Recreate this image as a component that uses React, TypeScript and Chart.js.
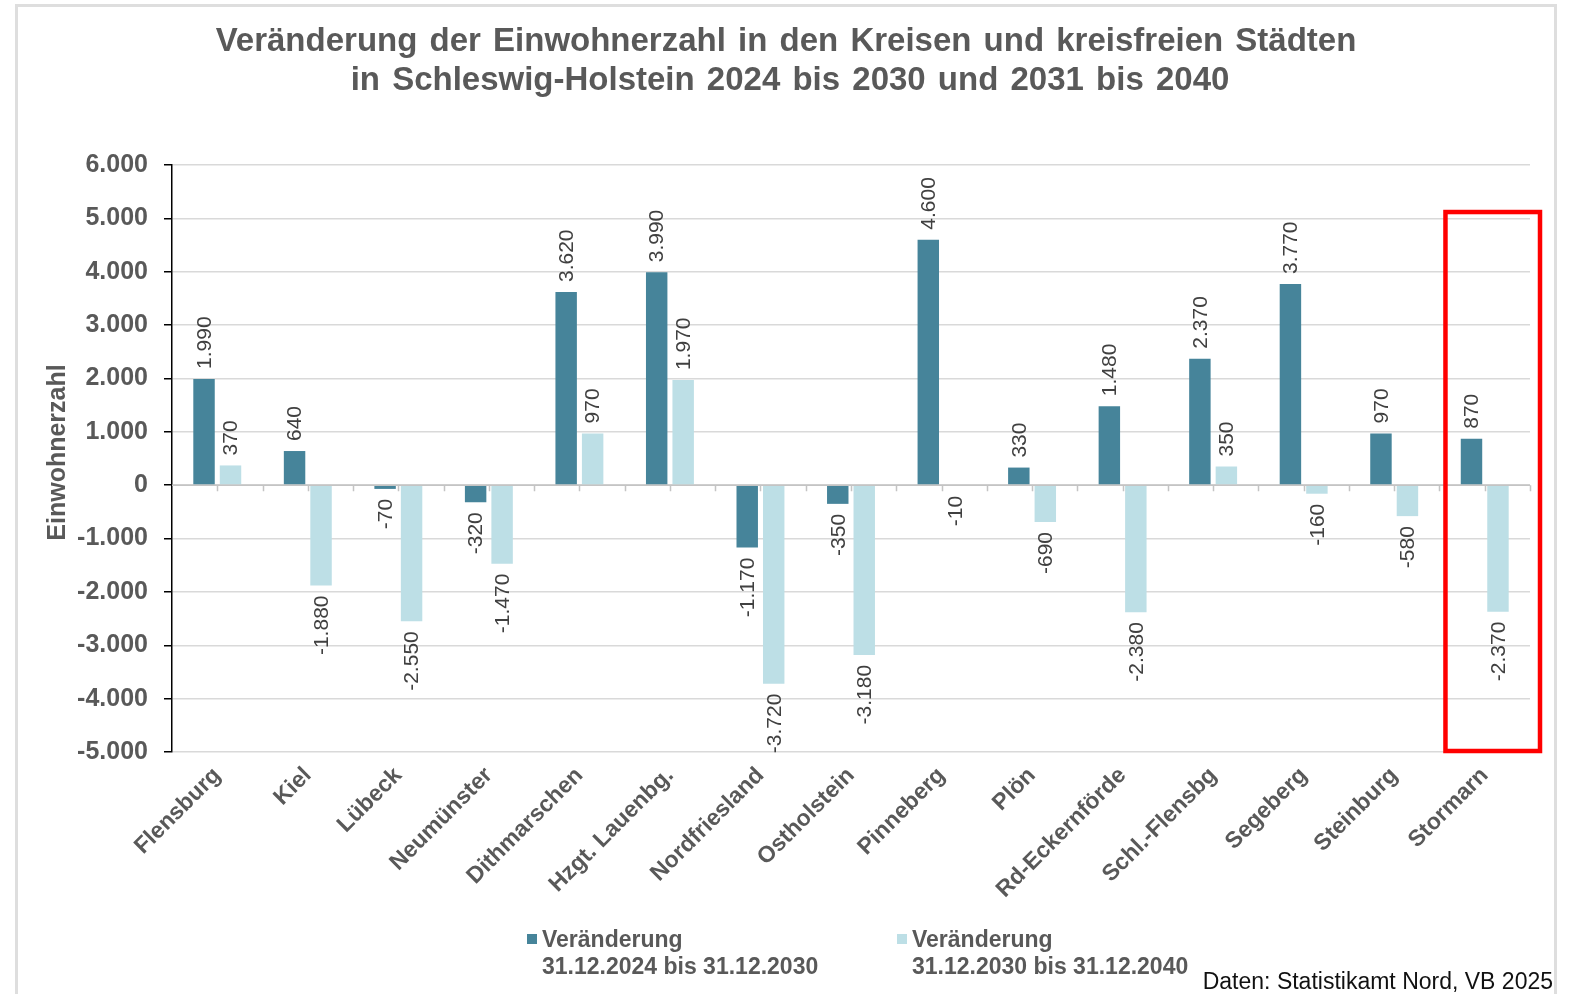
import React, { useEffect, useRef } from "react";
import { Chart, registerables } from "chart.js";

Chart.register(...registerables);

const categories = [
  "Flensburg", "Kiel", "Lübeck", "Neumünster", "Dithmarschen", "Hzgt. Lauenbg.",
  "Nordfriesland", "Ostholstein", "Pinneberg", "Plön", "Rd-Eckernförde",
  "Schl.-Flensbg", "Segeberg", "Steinburg", "Stormarn",
];
const change2024to2030 = [1990, 640, -70, -320, 3620, 3990, -1170, -350, 4600, 330, 1480, 2370, 3770, 970, 870];
const change2030to2040 = [370, -1880, -2550, -1470, 970, 1970, -3720, -3180, -10, -690, -2380, 350, -160, -580, -2370];
const seriesNames = [
  ["Veränderung", "31.12.2024 bis 31.12.2030"],
  ["Veränderung", "31.12.2030 bis 31.12.2040"],
];
const titleLines = [
  "Veränderung der Einwohnerzahl in den Kreisen und kreisfreien Städten",
  "in Schleswig-Holstein 2024 bis 2030 und 2031 bis 2040",
];
const yAxisTitle = "Einwohnerzahl";
const sourceText = "Daten: Statistikamt Nord, VB 2025";
const yMin = -5000;
const yMax = 6000;
const yStep = 1000;
const highlightTop = 5100;

const DARK = "#46849a";
const LIGHT = "#bddfe6";
const FONT = "'Liberation Sans', Arial, sans-serif";

function fmt(n: number): string {
  const s = Math.abs(n).toString().replace(/\B(?=(\d{3})+(?!\d))/g, ".");
  return (n < 0 ? "-" : "") + s;
}

const decorPlugin = {
  id: "decor",
  afterDraw(chart: any) {
    const ctx = chart.ctx as CanvasRenderingContext2D;
    const area = chart.chartArea;
    const xs = chart.scales.x;
    const ys = chart.scales.y;
    ctx.save();

    // frame
    ctx.strokeStyle = "#dedede";
    ctx.lineWidth = 3;
    ctx.beginPath();
    ctx.moveTo(16.5, 994);
    ctx.lineTo(16.5, 5.5);
    ctx.lineTo(1555.5, 5.5);
    ctx.lineTo(1555.5, 994);
    ctx.stroke();

    // title
    ctx.fillStyle = "#595959";
    ctx.font = `bold 33px ${FONT}`;
    (ctx as any).wordSpacing = "3px";
    ctx.textAlign = "center";
    ctx.textBaseline = "middle";
    ctx.fillText(titleLines[0], 786, 42);
    ctx.fillText(titleLines[1], 790, 81);
    (ctx as any).wordSpacing = "0px";

    // y axis title
    ctx.save();
    ctx.translate(58, (area.top + area.bottom) / 2 - 6);
    ctx.rotate(-Math.PI / 2);
    ctx.font = `bold 25px ${FONT}`;
    ctx.fillStyle = "#595959";
    ctx.fillText(yAxisTitle, 0, 0);
    ctx.restore();

    // zero line with half-category ticks
    const y0 = ys.getPixelForValue(0);
    ctx.strokeStyle = "#c4c4c4";
    ctx.lineWidth = 1.5;
    ctx.beginPath();
    ctx.moveTo(area.left, y0);
    ctx.lineTo(area.right, y0);
    const half = (area.right - area.left) / categories.length / 2;
    for (let k = 1; k <= categories.length * 2; k++) {
      const x = Math.round(area.left + k * half) + 0.5;
      ctx.moveTo(x, y0);
      ctx.lineTo(x, y0 + 6);
    }
    ctx.stroke();

    // data labels
    ctx.font = `21px ${FONT}`;
    ctx.fillStyle = "#404040";
    ctx.textBaseline = "middle";
    chart.data.datasets.forEach((ds: any, di: number) => {
      const meta = chart.getDatasetMeta(di);
      meta.data.forEach((bar: any, i: number) => {
        const v = ds.data[i];
        ctx.save();
        if (v >= 0) {
          ctx.translate(bar.x, Math.min(bar.y, bar.base) - 10);
          ctx.rotate(-Math.PI / 2);
          ctx.textAlign = "left";
        } else {
          ctx.translate(bar.x, Math.max(bar.y, bar.base) + 10);
          ctx.rotate(-Math.PI / 2);
          ctx.textAlign = "right";
        }
        ctx.fillText(fmt(v), 0, 1);
        ctx.restore();
      });
    });

    // highlight box around last category
    const cw = (area.right - area.left) / categories.length;
    const bx0 = xs.getPixelForValue(categories.length - 1) - cw / 2 + 6;
    const bx1 = area.right + 10;
    const by0 = ys.getPixelForValue(highlightTop) - 1;
    const by1 = ys.getPixelForValue(yMin) - 1;
    ctx.strokeStyle = "#ff0000";
    ctx.lineWidth = 4.5;
    ctx.strokeRect(bx0, by0, bx1 - bx0, by1 - by0);

    // legend
    const legendX = [527, 897];
    const colors = [DARK, LIGHT];
    ctx.font = `bold 23px ${FONT}`;
    ctx.textAlign = "left";
    ctx.textBaseline = "middle";
    seriesNames.forEach((lines, i) => {
      ctx.fillStyle = colors[i];
      ctx.fillRect(legendX[i], 934, 10, 10);
      ctx.fillStyle = "#595959";
      ctx.fillText(lines[0], legendX[i] + 15, 941);
      ctx.fillText(lines[1], legendX[i] + 15, 968);
    });

    // source
    ctx.font = `23px ${FONT}`;
    ctx.fillStyle = "#111111";
    ctx.textAlign = "right";
    ctx.fillText(sourceText, 1553, 983);

    ctx.restore();
  },
};

export default function App() {
  const ref = useRef<HTMLCanvasElement>(null);
  useEffect(() => {
    if (!ref.current) return;
    const chart = new Chart(ref.current, {
      type: "bar",
      data: {
        labels: categories,
        datasets: [
          {
            label: seriesNames[0].join(" "),
            data: change2024to2030,
            backgroundColor: DARK,
            categoryPercentage: 0.585,
            barPercentage: 0.81,
          },
          {
            label: seriesNames[1].join(" "),
            data: change2030to2040,
            backgroundColor: LIGHT,
            categoryPercentage: 0.585,
            barPercentage: 0.81,
          },
        ],
      },
      options: {
        responsive: false,
        animation: false,
        devicePixelRatio: 1,
        layout: { padding: { left: 0, right: 40, top: 165, bottom: 0 } },
        plugins: {
          legend: { display: false },
          title: { display: false },
          tooltip: { enabled: false },
        },
        scales: {
          x: {
            grid: { display: false, drawTicks: false },
            border: { display: false },
            ticks: {
              autoSkip: false,
              minRotation: 45,
              maxRotation: 45,
              padding: 10,
              color: "#595959",
              font: { family: FONT, size: 23, weight: "bold" },
            },
            afterFit: (s: any) => {
              s.height = 242;
            },
          },
          y: {
            min: yMin,
            max: yMax,
            grid: {
              color: "#d9d9d9",
              lineWidth: 1.5,
              tickColor: "#000000",
              tickLength: 8,
            },
            border: { display: true, color: "#000000", width: 1.5 },
            ticks: {
              stepSize: yStep,
              padding: 16,
              color: "#595959",
              font: { family: FONT, size: 25, weight: "bold" },
              callback: (v: any) => fmt(Number(v)),
            },
            afterFit: (s: any) => {
              s.width = 172;
            },
          },
        },
      },
      plugins: [decorPlugin],
    });
    return () => chart.destroy();
  }, []);
  return (
    <div style={{ position: "absolute", left: 0, top: 0, width: 1570, height: 994, background: "#fff" }}>
      <canvas ref={ref} width={1570} height={994} style={{ display: "block" }} />
    </div>
  );
}
